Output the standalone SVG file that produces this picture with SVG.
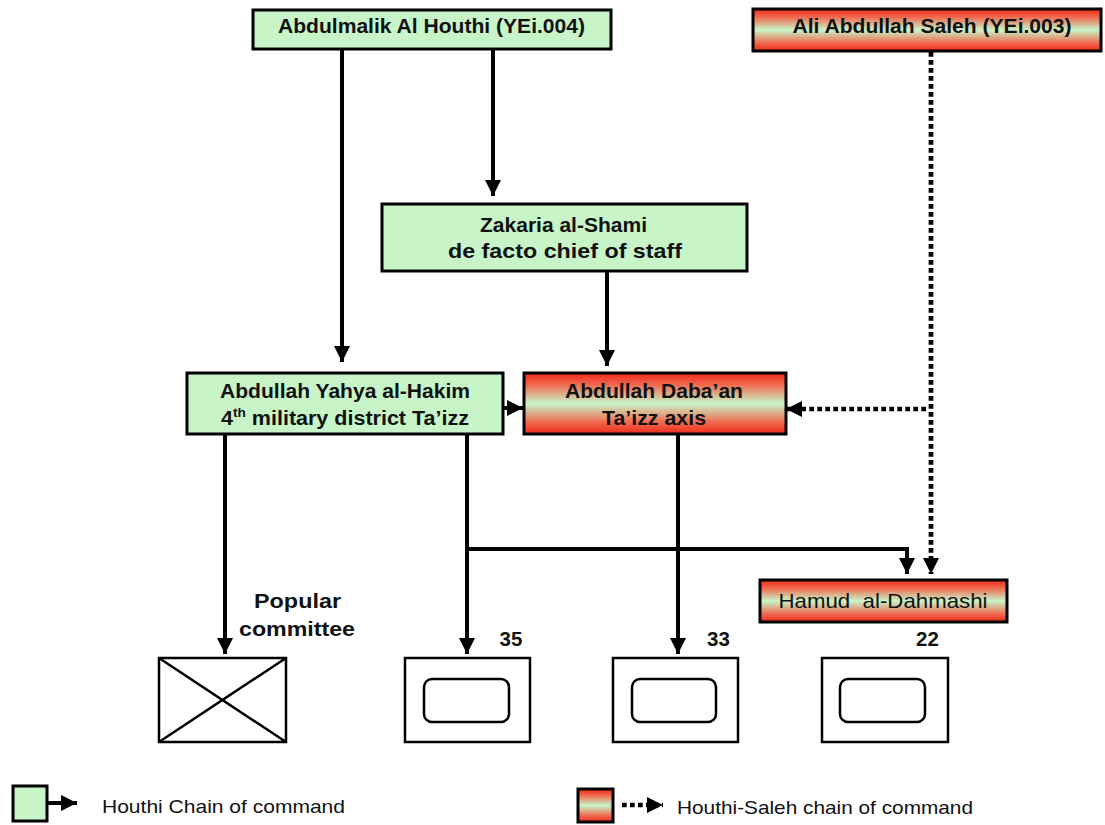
<svg xmlns="http://www.w3.org/2000/svg" width="1105" height="825" viewBox="0 0 1105 825">
<defs>
<linearGradient id="rg" x1="0" y1="0" x2="0" y2="1">
<stop offset="0" stop-color="#ec2a1a"/>
<stop offset="0.18" stop-color="#f2644a"/>
<stop offset="0.5" stop-color="#c8f5c8"/>
<stop offset="0.82" stop-color="#f2644a"/>
<stop offset="1" stop-color="#ec2a1a"/>
</linearGradient>
<marker id="ah" markerWidth="4" markerHeight="4" refX="4" refY="2" orient="auto" markerUnits="strokeWidth">
<path d="M0,0 L4,2 L0,4 Z" fill="#000"/>
</marker>
<marker id="ahd" markerWidth="3.4" markerHeight="3.4" refX="3.4" refY="1.7" orient="auto" markerUnits="strokeWidth">
<path d="M0,0 L3.4,1.7 L0,3.4 Z" fill="#000"/>
</marker>
<style>
.g{fill:#c8f5c8;stroke:#000;stroke-width:3}
.r{fill:url(#rg);stroke:#000;stroke-width:3}
.u{fill:#fff;stroke:#000;stroke-width:2.5}
.in{fill:none;stroke:#000;stroke-width:2.5}
.t{font-family:"Liberation Sans",Arial,sans-serif;font-size:20.5px;font-weight:bold;fill:#111;text-anchor:middle}
.n{font-family:"Liberation Sans",Arial,sans-serif;font-size:21px;fill:#111;text-anchor:middle}
.lg{font-family:"Liberation Sans",Arial,sans-serif;font-size:19px;fill:#111}
.s{fill:none;stroke:#000;stroke-width:4}
.d{fill:none;stroke:#000;stroke-width:4.7;stroke-dasharray:4.7 3.3}
</style>
</defs>
<rect width="1105" height="825" fill="#fff"/>

<g id="connectors">
<path class="s" d="M342,49 V362" marker-end="url(#ah)"/>
<path class="s" d="M493,49 V196" marker-end="url(#ah)"/>
<path class="s" d="M607,271 V366" marker-end="url(#ah)"/>
<path class="s" d="M503,408 H523" marker-end="url(#ah)"/>
<path class="s" d="M225,428 V654" marker-end="url(#ah)"/>
<path class="s" d="M467,428 V654" marker-end="url(#ah)"/>
<path class="s" d="M678,428 V654" marker-end="url(#ah)"/>
<path class="s" d="M467,549 H907 V574" marker-end="url(#ah)"/>
<path class="d" d="M931,52 V574" marker-end="url(#ahd)"/>
<path class="d" d="M926,409 H786" marker-end="url(#ahd)"/>
</g>

<g id="abdulmalik">
<rect class="g" x="253" y="10" width="358" height="39"/>
<text class="t" x="431.5" y="33" textLength="307" lengthAdjust="spacingAndGlyphs">Abdulmalik Al Houthi (YEi.004)</text>
</g>

<g id="saleh">
<rect class="r" x="753" y="9" width="348" height="42"/>
<text class="t" x="932" y="33" textLength="279" lengthAdjust="spacingAndGlyphs">Ali Abdullah Saleh (YEi.003)</text>
</g>

<g id="zakaria">
<rect class="g" x="382" y="204" width="365" height="67"/>
<text class="t" x="563.5" y="232" textLength="167" lengthAdjust="spacingAndGlyphs">Zakaria al-Shami</text>
<text class="t" x="565" y="258" textLength="234" lengthAdjust="spacingAndGlyphs">de facto chief of staff</text>
</g>

<g id="yahya">
<rect class="g" x="187" y="373" width="316" height="61"/>
<text class="t" x="345" y="398" textLength="250" lengthAdjust="spacingAndGlyphs">Abdullah Yahya al-Hakim</text>
<text class="t" x="345" y="425" textLength="248" lengthAdjust="spacingAndGlyphs">4<tspan font-size="13" dy="-8">th</tspan><tspan dy="8"> military district Ta’izz</tspan></text>
</g>

<g id="dabaan">
<rect class="r" x="524" y="373" width="262" height="61"/>
<text class="t" x="654" y="398" textLength="178" lengthAdjust="spacingAndGlyphs">Abdullah Daba’an</text>
<text class="t" x="654" y="425" textLength="104" lengthAdjust="spacingAndGlyphs">Ta’izz axis</text>
</g>

<g id="hamud">
<rect class="r" x="760" y="580" width="247" height="42"/>
<text class="n" x="883" y="608" textLength="209" lengthAdjust="spacingAndGlyphs">Hamud&#160; al-Dahmashi</text>
</g>

<g id="popular">
<text class="t" x="297.5" y="608" font-size="21" textLength="87" lengthAdjust="spacingAndGlyphs">Popular</text>
<text class="t" x="297" y="636" font-size="21" textLength="116" lengthAdjust="spacingAndGlyphs">committee</text>
<rect class="u" x="159" y="658" width="127" height="84"/>
<path class="in" d="M159,658 L286,742 M286,658 L159,742"/>
</g>

<g id="unit35">
<text class="t" x="511" y="646" font-size="21">35</text>
<rect class="u" x="405" y="658" width="125" height="84"/>
<rect class="in" x="424" y="679" width="85" height="43" rx="8"/>
</g>

<g id="unit33">
<text class="t" x="718.5" y="646" font-size="21">33</text>
<rect class="u" x="613" y="658" width="125" height="84"/>
<rect class="in" x="632" y="679" width="84" height="43" rx="8"/>
</g>

<g id="unit22">
<text class="t" x="927.5" y="646" font-size="21">22</text>
<rect class="u" x="822" y="658" width="126" height="84"/>
<rect class="in" x="840" y="679" width="85" height="43" rx="8"/>
</g>

<g id="legend-houthi">
<rect class="g" x="13" y="786" width="34" height="35"/>
<path class="s" d="M47,803 H77" marker-end="url(#ah)"/>
<text class="lg" x="102" y="813" textLength="243" lengthAdjust="spacingAndGlyphs">Houthi Chain of command</text>
</g>

<g id="legend-saleh">
<rect class="r" x="578" y="789" width="35" height="33"/>
<path class="d" d="M622,805 H663" marker-end="url(#ahd)"/>
<text class="lg" x="677" y="814" textLength="296" lengthAdjust="spacingAndGlyphs">Houthi-Saleh chain of command</text>
</g>
</svg>
